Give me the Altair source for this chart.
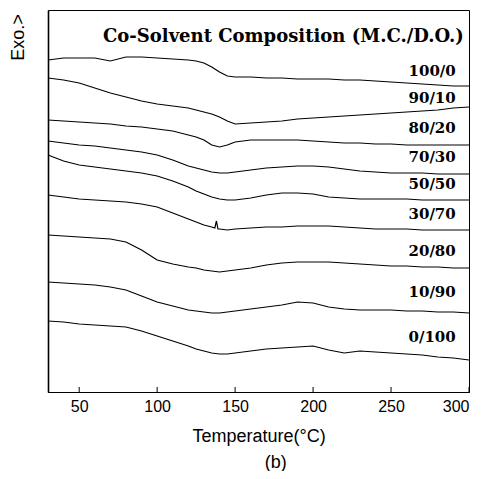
import altair as alt
import pandas as pd

# Temperature grid (deg C)
TEMPS = [30, 40, 50, 60, 70, 80, 90, 100, 110, 120, 125, 130, 135, 140, 145, 150,
         160, 170, 180, 190, 200, 210, 220, 230, 240, 250, 260, 270, 280, 290, 300]

# Heat flow traces (arbitrary units, stacked with offsets, exo up)
S_100_0 = [332, 334, 334, 334, 331, 335, 335, 334, 333, 332, 331, 329, 325, 320, 316, 315,
           315, 314, 314, 313, 313, 313, 312, 312, 311, 310, 309, 308, 307, 306, 306]
S_90_10 = [314, 312, 309, 304, 299, 295, 291, 288, 286, 284, 282, 280, 278, 275, 271, 268,
           269, 270, 271, 273, 274, 275, 276, 277, 278, 279, 280, 281, 282, 284, 285]
S_80_20 = [272, 271, 270, 269, 268, 266, 265, 263, 261, 257, 255, 252, 247, 245, 247, 250,
           252, 252, 252, 252, 251, 250, 249, 249, 248, 248, 247, 247, 247, 247, 247]
S_70_30 = [251, 249, 247, 246, 244, 242, 240, 237, 232, 226, 224, 222, 220, 219, 219, 220,
           222, 224, 225, 226, 226, 225, 223, 221, 220, 219, 219, 219, 218, 218, 218]
S_50_50 = [237, 231, 227, 225, 223, 221, 219, 216, 211, 205, 201, 198, 195, 193, 192, 192,
           194, 197, 199, 199, 198, 195, 194, 193, 193, 193, 193, 192, 192, 192, 192]
S_30_70 = [197, 195, 193, 192, 191, 190, 188, 185, 179, 173, 170, 167, 165, 163, 162, 163,
           164, 165, 165, 166, 166, 166, 165, 164, 163, 163, 163, 162, 162, 162, 162]
S_20_80 = [157, 156, 155, 154, 153, 150, 142, 132, 128, 125, 124, 122, 121, 120, 121, 122,
           124, 127, 129, 130, 130, 130, 129, 128, 127, 126, 126, 125, 125, 124, 124]
S_10_90 = [110, 109, 108, 107, 105, 102, 96, 90, 86, 82, 81, 80, 79, 79, 80, 81,
           83, 85, 87, 90, 89, 85, 83, 82, 82, 82, 81, 81, 80, 80, 79]
S_0_100 = [71, 70, 68, 67, 66, 65, 61, 56, 51, 46, 43, 41, 39, 38, 38, 39,
           41, 43, 44, 45, 46, 42, 39, 41, 40, 39, 38, 37, 35, 34, 32]

# small spike on the 30/70 trace
SPIKE_T = [137, 138, 139]
SPIKE_V = [164, 171, 163]

LABELS = ["100/0", "90/10", "80/20", "70/30", "50/50", "30/70", "20/80", "10/90", "0/100"]
LABEL_V = [321, 294, 264, 235, 208, 178, 141, 100, 55]
LABEL_T = 291.5

TICKS = [50, 100, 150, 200, 250, 300]

SERIES = [S_100_0, S_90_10, S_80_20, S_70_30, S_50_50, S_30_70, S_20_80, S_10_90, S_0_100]

rows = []
for name, vals in zip(LABELS, SERIES):
    for t, v in zip(TEMPS, vals):
        rows.append({"series": name, "T": t, "v": v})
for t, v in zip(SPIKE_T, SPIKE_V):
    rows.append({"series": "30/70", "T": t, "v": v})
df = pd.DataFrame(rows)

lab_df = pd.DataFrame({"label": LABELS, "v": LABEL_V, "T": [LABEL_T] * len(LABELS)})
title_df = pd.DataFrame({"label": ["Co-Solvent Composition (M.C./D.O.)"], "T": [181], "v": [355]})
b_df = pd.DataFrame({"label": ["(b)"], "T": [176], "v": [-71]})
tick_df = pd.DataFrame({"T": TICKS})

xs = alt.Scale(domain=[30, 300], nice=False, zero=False)
ys = alt.Scale(domain=[0, 382], nice=False, zero=False)

x_enc = alt.X("T:Q", scale=xs, axis=alt.Axis(
    values=TICKS, ticks=False, grid=False, labelFont="Liberation Sans", labelFontSize=16,
    labelColor="black", labelPadding=6, domainColor="black", domainWidth=1.2,
    title="Temperature(°C)", titleFont="Liberation Sans", titleFontSize=18,
    titleFontWeight="normal", titleColor="black", titleY=49, titleBaseline="alphabetic"))
y_enc = alt.Y("v:Q", scale=ys, axis=alt.Axis(
    labels=False, ticks=False, grid=False, domainColor="black", domainWidth=1.6,
    title="Exo.>", titleFont="Liberation Sans", titleFontSize=18, titleFontWeight="normal",
    titleColor="black", titleAngle=270, titleX=-30, titleY=27, titleAlign="center",
    titleBaseline="middle"))

lines = alt.Chart(df).mark_line(color="black", strokeWidth=1.2).encode(
    x=x_enc, y=y_enc, detail="series:N")

ticks = alt.Chart(tick_df).mark_rule(color="black", strokeWidth=1).encode(
    x=alt.X("T:Q", scale=xs), y=alt.value(382), y2=alt.value(377))

labels = alt.Chart(lab_df).mark_text(
    font="DejaVu Serif", fontWeight="bold", fontSize=15, align="right",
    baseline="middle", color="black").encode(
    x=alt.X("T:Q", scale=xs), y=alt.Y("v:Q", scale=ys), text="label:N")

head = alt.Chart(title_df).mark_text(
    font="DejaVu Serif", fontWeight="bold", fontSize=18, align="center",
    baseline="middle", color="black").encode(
    x=alt.X("T:Q", scale=xs), y=alt.Y("v:Q", scale=ys), text="label:N")

bmark = alt.Chart(b_df).mark_text(
    font="Liberation Sans", fontSize=18, align="center", baseline="middle",
    color="black").encode(
    x=alt.X("T:Q", scale=xs), y=alt.Y("v:Q", scale=ys), text="label:N")

chart = alt.layer(lines, ticks, labels, head, bmark).properties(
    width=421, height=382,
    padding={"left": 40, "top": 2, "right": 8, "bottom": 79},
    autosize=alt.AutoSizeParams(type="none"),
).configure_view(stroke="black", strokeWidth=1)

chart.save("out.html", embed_options={"renderer": "svg", "actions": False})
